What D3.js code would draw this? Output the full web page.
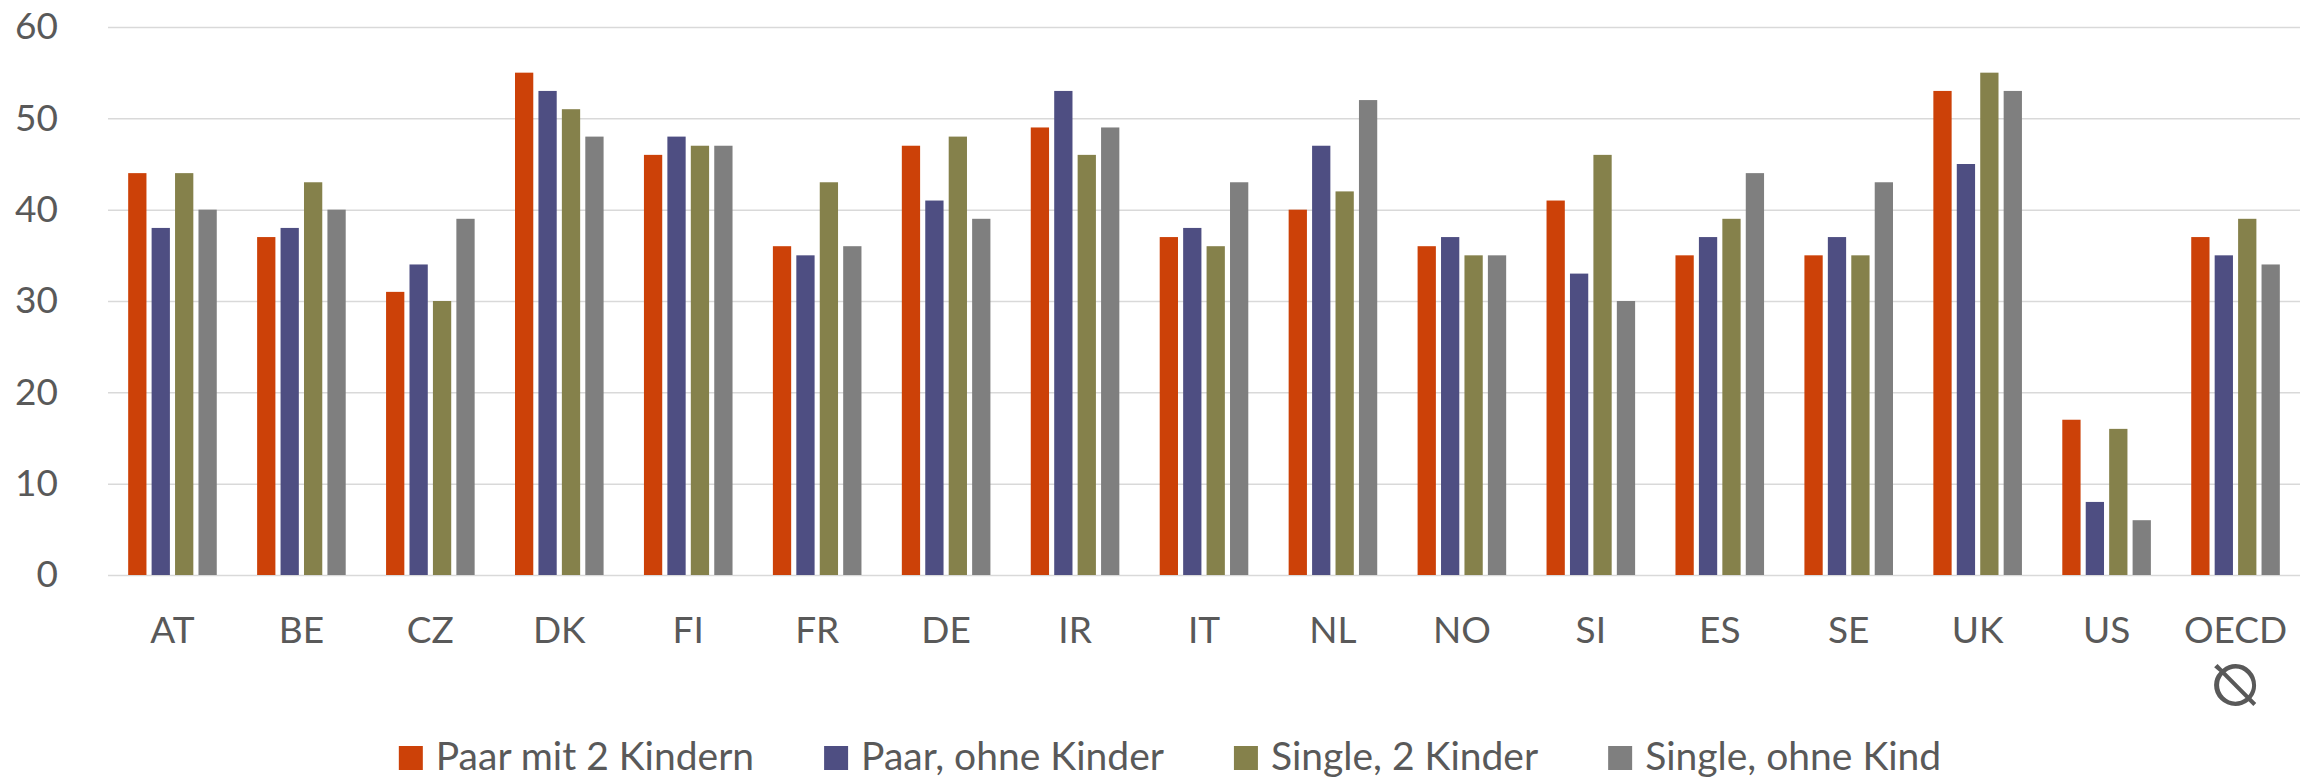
<!DOCTYPE html>
<head>
    <meta charset="utf-8">
    <title>Grouped bar chart</title>
    <style>
        body { margin: 0; background: #fff; }
        text { font-family: Lato, "Open Sans", sans-serif; fill: #595959; }
    </style>
</head>
<body>

<script src="https://d3js.org/d3.v7.min.js"></script>

<script>

    var countries = ['AT', 'BE', 'CZ', 'DK', 'FI', 'FR', 'DE', 'IR', 'IT', 'NL', 'NO', 'SI', 'ES', 'SE', 'UK', 'US', 'OECD'];
    var seriesNames = ['Paar mit 2 Kindern', 'Paar, ohne Kinder', 'Single, 2 Kinder', 'Single, ohne Kind'];
    var paarMit2Kindern = [44, 37, 31, 55, 46, 36, 47, 49, 37, 40, 36, 41, 35, 35, 53, 17, 37];
    var paarOhneKinder  = [38, 38, 34, 53, 48, 35, 41, 53, 38, 47, 37, 33, 37, 37, 45,  8, 35];
    var single2Kinder   = [44, 43, 30, 51, 47, 43, 48, 46, 36, 42, 35, 46, 39, 35, 55, 16, 39];
    var singleOhneKind  = [40, 40, 39, 48, 47, 36, 39, 49, 43, 52, 35, 30, 44, 43, 53,  6, 34];
    var yTicks = [0, 10, 20, 30, 40, 50, 60];
    var averageSign = '\u29B0';

    var seriesValues = [paarMit2Kindern, paarOhneKinder, single2Kinder, singleOhneKind];
    var colors = ['#CC4108', '#4E4E82', '#85814B', '#7F7F7F'];

    var data = countries.map(function(c, i) {
        return {
            country: c,
            values: seriesNames.map(function(s, j) { return {key: s, value: seriesValues[j][i]}; })
        };
    });

    var margin = {top: 27, right: 13, bottom: 203, left: 108},
        width = 2313 - margin.left - margin.right,
        height = 778 - margin.top - margin.bottom;

    var x0 = d3.scaleBand()
        .domain(countries)
        .range([0, width])
        .paddingInner(0.313)
        .paddingOuter(0.1565);

    var x1 = d3.scaleBand()
        .domain(seriesNames)
        .range([0, x0.bandwidth()])
        .paddingInner(0.22);

    var y = d3.scaleLinear()
        .domain([0, 60])
        .range([height, 0]);

    var color = d3.scaleOrdinal()
        .domain(seriesNames)
        .range(colors);

    var svg = d3.select('body').append('svg')
        .attr('width', 2313)
        .attr('height', 778)
        .append('g')
        .attr('transform', 'translate(' + margin.left + ',' + margin.top + ')');

    // gridlines + y labels
    var yAxis = svg.append('g')
        .attr('class', 'y axis')
        .call(d3.axisLeft(y).tickValues(yTicks).tickSize(-width).tickPadding(50));
    yAxis.select('.domain').remove();
    yAxis.selectAll('.tick line')
        .attr('stroke', '#D9D9D9')
        .attr('stroke-width', 1.5);
    yAxis.selectAll('.tick text')
        .attr('font-size', '37px')
        .style('fill', '#595959');

    var groups = svg.selectAll('.country')
        .data(data)
        .enter().append('g')
        .attr('class', 'country')
        .attr('transform', function(d) { return 'translate(' + x0(d.country) + ',0)'; });

    groups.selectAll('rect')
        .data(function(d) { return d.values; })
        .enter().append('rect')
        .attr('x', function(d) { return x1(d.key); })
        .attr('y', function(d) { return y(d.value); })
        .attr('width', x1.bandwidth())
        .attr('height', function(d) { return height - y(d.value); })
        .attr('fill', function(d) { return color(d.key); });

    var xAxis = svg.append('g')
        .attr('class', 'x axis')
        .attr('transform', 'translate(0,' + height + ')')
        .call(d3.axisBottom(x0).tickSize(0).tickPadding(42));
    xAxis.select('.domain').remove();
    xAxis.selectAll('.tick text')
        .attr('font-size', '37px')
        .style('fill', '#595959');

    // average sign under OECD
    xAxis.selectAll('.tick')
        .filter(function(d) { return d === 'OECD'; })
        .append('text')
        .attr('x', 0)
        .attr('y', 110)
        .attr('text-anchor', 'middle')
        .attr('dominant-baseline', 'central')
        .style('font-family', '"DejaVu Sans", sans-serif')
        .style('font-weight', 200)
        .style('fill', '#595959')
        .attr('font-size', '58px')
        .text(averageSign);

    // legend
    var legend = svg.append('g')
        .attr('class', 'legend');

    var offset = 0;
    seriesNames.forEach(function(name) {
        var row = legend.append('g')
            .attr('transform', 'translate(' + offset + ',0)');

        row.append('rect')
            .attr('width', 24)
            .attr('height', 24)
            .attr('fill', color(name));

        var label = row.append('text')
            .attr('x', 37)
            .attr('y', 24)
            .attr('font-size', '39px')
            .text(name);

        offset += 37 + label.node().getComputedTextLength() + 70;
    });
    offset -= 70;
    legend.attr('transform', 'translate(' + (1170 - margin.left - offset / 2) + ',' + (746 - margin.top) + ')');

</script>

</body>
